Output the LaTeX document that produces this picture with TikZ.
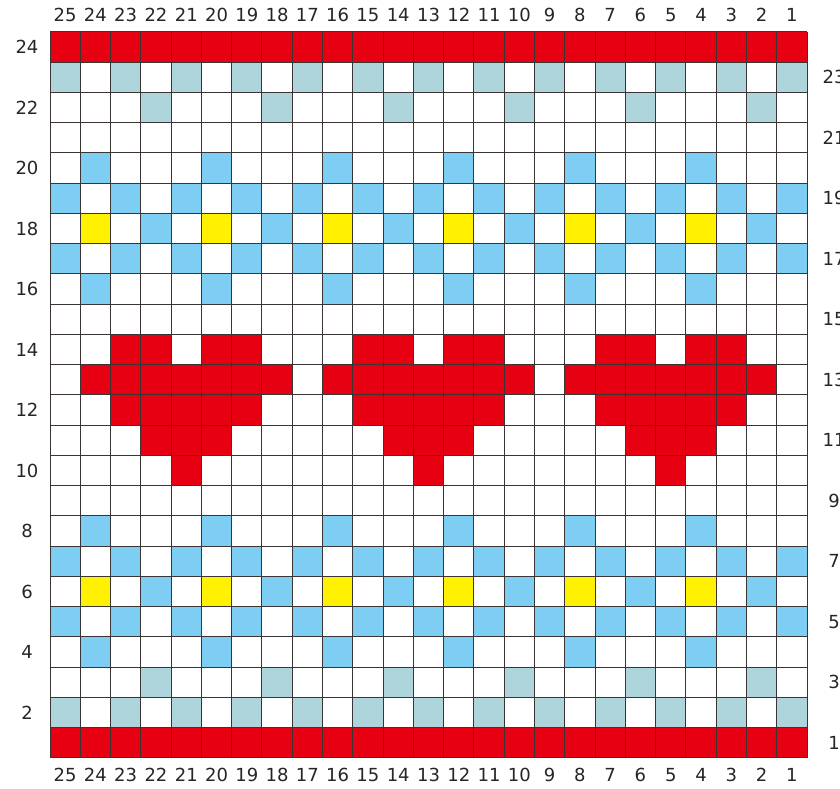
\documentclass[tikz,border=0pt]{standalone}
\usepackage{fontspec}
\setmainfont{DejaVu Sans}
\definecolor{cred}{HTML}{E60012}
\definecolor{cblue}{HTML}{7ECEF4}
\definecolor{cgray}{HTML}{AED5DC}
\definecolor{cyel}{HTML}{FFF100}
\definecolor{cline}{HTML}{3A3434}
\begin{document}
\begin{tikzpicture}[x=1pt,y=1pt,
  lbl/.style={inner sep=0pt,font=\fontsize{18}{20}\selectfont,text=black!85},
  gridln/.style={draw=cline,line width=1pt}]
\useasboundingbox (0,0) rectangle (840,789);
\fill[white] (0,0) rectangle (840,789);
\begin{scope}[shift={(50pt,31pt)},x=30.28pt,y=30.25pt]
  % helper: cell for column c, row r is (25-c,r-1) rectangle (26-c,r)
  % rows 1 and 24 all red
  \foreach \r in {1,24}{
    \fill[cred] (0,\r-1) rectangle (25,\r);
  }
  % gray-blue odd columns rows 2,23
  \foreach \r in {2,23}{
    \foreach \c in {1,3,...,25}{
      \fill[cgray] (25-\c,\r-1) rectangle (26-\c,\r);
    }
  }
  % gray-blue rows 3,22
  \foreach \r in {3,22}{
    \foreach \c in {2,6,...,22}{
      \fill[cgray] (25-\c,\r-1) rectangle (26-\c,\r);
    }
  }
  % light blue rows 4,8,16,20
  \foreach \r in {4,8,16,20}{
    \foreach \c in {4,8,...,24}{
      \fill[cblue] (25-\c,\r-1) rectangle (26-\c,\r);
    }
  }
  % light blue odd columns rows 5,7,17,19
  \foreach \r in {5,7,17,19}{
    \foreach \c in {1,3,...,25}{
      \fill[cblue] (25-\c,\r-1) rectangle (26-\c,\r);
    }
  }
  % rows 6,18: yellow and blue
  \foreach \r in {6,18}{
    \foreach \c in {4,8,...,24}{
      \fill[cyel] (25-\c,\r-1) rectangle (26-\c,\r);
    }
    \foreach \c in {2,6,...,22}{
      \fill[cblue] (25-\c,\r-1) rectangle (26-\c,\r);
    }
  }
  % hearts
  \foreach \m in {5,13,21}{
    \foreach \o in {-2,-1,1,2}{
      \fill[cred] (25-\m-\o,13) rectangle (26-\m-\o,14);
    }
    \fill[cred] (22-\m,12) rectangle (29-\m,13);
    \fill[cred] (23-\m,11) rectangle (28-\m,12);
    \fill[cred] (24-\m,10) rectangle (27-\m,11);
    \fill[cred] (25-\m,9) rectangle (26-\m,10);
  }
  % grid
  \foreach \i in {0,...,25}{
    \draw[gridln] (\i,0) -- (\i,24);
  }
  \foreach \j in {0,...,24}{
    \draw[gridln] (0,\j) -- (25,\j);
  }
\end{scope}
% column labels
\foreach \c in {1,...,25}{
  \node[lbl] (top\c) at ({50+(25.5-\c)*30.28},774) {\c};
  \node[lbl] (bot\c) at ({50+(25.5-\c)*30.28},14) {\c};
}
% row labels
\foreach \r in {2,4,...,24}{
  \node[lbl] (left\r) at (27,{31+(\r-0.5)*30.25}) {\r};
}
\foreach \r in {1,3,...,23}{
  \node[lbl] (right\r) at (834,{31+(\r-0.5)*30.25}) {\r};
}
\end{tikzpicture}
\end{document}
